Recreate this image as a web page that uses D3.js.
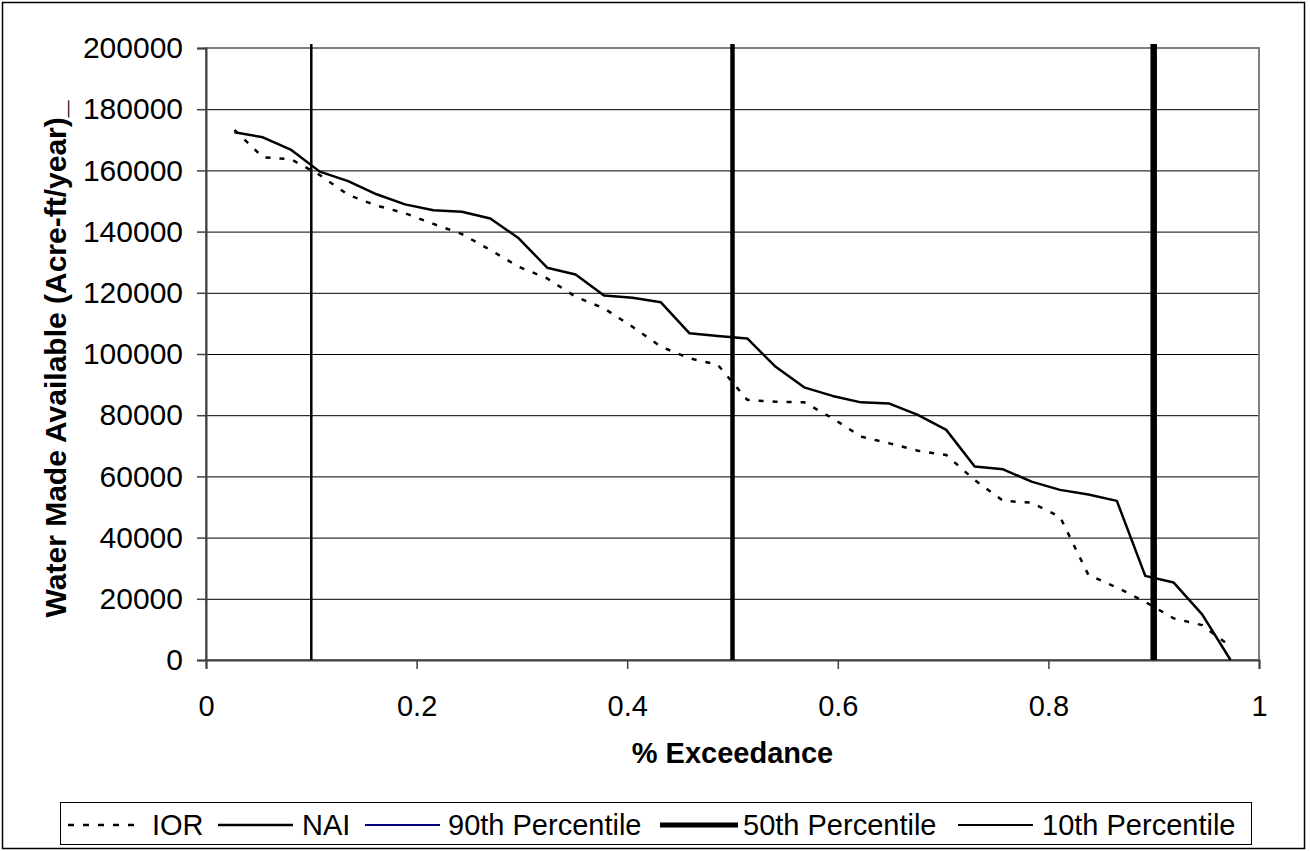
<!DOCTYPE html>
<html>
<head>
	<meta charset="UTF-8" />
	<title>exceedance</title>
	<script src="https://d3js.org/d3.v7.min.js"></script>
	<style>
		body { margin: 0; background: #fff; }
		text { font-family: "Liberation Sans", Arial, sans-serif; }
	</style>
</head>
<body>
	<svg id="chart" width="1310" height="851"></svg>

	<script type="text/javascript">
	// plotting positions (rank / 37) for the 36 ranked years
	var exceedance = [0.027, 0.054, 0.081, 0.108, 0.135, 0.162, 0.189, 0.216, 0.243, 0.270, 0.297, 0.324,
		0.351, 0.378, 0.405, 0.432, 0.459, 0.486, 0.514, 0.541, 0.568, 0.595, 0.622, 0.649,
		0.676, 0.703, 0.730, 0.757, 0.784, 0.811, 0.838, 0.865, 0.892, 0.919, 0.946, 0.973]

	var iorValues = [173200, 164300, 163600, 158500, 152000, 148500, 146000, 142500, 139200, 134000, 128500, 124700,
		118700, 114900, 108900, 102400, 98600, 96500, 85000, 84400, 84200, 79000, 73000, 70800,
		68400, 67000, 58800, 52000, 51400, 46800, 27800, 23700, 19000, 13600, 11400, 4400]

	var naiValues = [172500, 170800, 166700, 159600, 156500, 152200, 148900, 147000, 146500, 144300, 137800, 128200,
		126000, 119100, 118400, 116900, 106800, 105900, 105100, 95800, 89100, 86300, 84200, 83800,
		80100, 75200, 63200, 62300, 58300, 55600, 54100, 52000, 27500, 25300, 14900, 0]

	// vertical percentile markers
	var pctNames = ["90th Percentile", "50th Percentile", "10th Percentile"]
	var pctX = [0.1, 0.5, 0.9]
	var pctTop = 201300

	var xTicks = [0, 0.2, 0.4, 0.6, 0.8, 1]
	var yTicks = [0, 20000, 40000, 60000, 80000, 100000, 120000, 140000, 160000, 180000, 200000]

	// looks
	var pctWidth = [2.5, 4.5, 6.5]
	var fs = 29

	var svg = d3.select("#chart")
	var m = {left: 206, top: 48, right: 1259, bottom: 660}

	// outer frame
	svg.append("rect").attr("x", 2.5).attr("y", 2.5).attr("width", 1302).attr("height", 846)
		.attr("fill", "#fff").attr("stroke", "#000").attr("stroke-width", 1.5)

	var x = d3.scaleLinear().domain([0, 1]).range([m.left, m.right])
	var y = d3.scaleLinear().domain([0, 200000]).range([m.bottom, m.top])

	// gridlines
	svg.append("g").attr("transform", `translate(${m.left},0)`)
		.call(d3.axisLeft(y).tickValues(yTicks).tickSize(-(m.right - m.left)).tickFormat(""))
		.call(g => g.select(".domain").remove())
		.call(g => g.selectAll("line").attr("stroke", "#000").attr("stroke-width", 1))

	// plot area border
	svg.append("rect").attr("x", m.left).attr("y", m.top)
		.attr("width", m.right - m.left).attr("height", m.bottom - m.top)
		.attr("fill", "none").attr("stroke", "#808080").attr("stroke-width", 2)

	// axes
	var yAxis = svg.append("g").attr("transform", `translate(${m.left},0)`)
		.call(d3.axisLeft(y).tickValues(yTicks).tickSize(9).tickPadding(14).tickFormat(d3.format("d")))
	var xAxis = svg.append("g").attr("transform", `translate(0,${m.bottom})`)
		.call(d3.axisBottom(x).tickValues(xTicks).tickSize(9).tickPadding(26).tickFormat(d => d))
	;[yAxis, xAxis].forEach(a => {
		a.select(".domain").attr("stroke", "#404040").attr("stroke-width", 2)
		a.selectAll(".tick line").attr("stroke", "#404040").attr("stroke-width", 1.5)
		a.selectAll("text").attr("font-size", fs).attr("fill", "#000")
			.style("font-family", '"Liberation Sans", Arial, sans-serif')
	})
	yAxis.selectAll("text").attr("font-size", 30)

	// series
	var line = d3.line().x((d, i) => x(exceedance[i])).y(d => y(d))

	svg.append("path").datum(iorValues)
		.attr("d", line).attr("fill", "none").attr("stroke", "#000")
		.attr("stroke-width", 2.5).attr("stroke-dasharray", "5,9")

	svg.append("path").datum(naiValues)
		.attr("d", line).attr("fill", "none").attr("stroke", "#000")
		.attr("stroke-width", 2.5).attr("stroke-linejoin", "round")

	svg.selectAll("line.pct").data(pctX).enter()
		.append("line").attr("class", "pct")
		.attr("x1", d => x(d)).attr("x2", d => x(d))
		.attr("y1", y(0)).attr("y2", y(pctTop))
		.attr("stroke", "#000")
		.attr("stroke-width", (d, i) => pctWidth[i])

	// axis titles
	svg.append("text").attr("x", (m.left + m.right) / 2).attr("y", 763)
		.attr("text-anchor", "middle").attr("font-size", fs).attr("font-weight", "bold")
		.text("% Exceedance")

	svg.append("text").attr("transform", "translate(66,359) rotate(-90)")
		.attr("text-anchor", "middle").attr("font-size", 30).attr("font-weight", "bold")
		.text("Water Made Available (Acre-ft/year)_")

	// legend
	var legend = svg.append("g")
	legend.append("rect").attr("x", 60.5).attr("y", 802.5).attr("width", 1191).attr("height", 42)
		.attr("fill", "#fff").attr("stroke", "#000").attr("stroke-width", 1)

	var legItems = [
		{name: "IOR", x0: 68, x1: 137, tx: 152, color: "#000", w: 2.5, dash: "6,9"},
		{name: "NAI", x0: 218, x1: 293, tx: 302, color: "#000", w: 2.5, dash: null},
		{name: pctNames[0], x0: 365, x1: 440, tx: 448, color: "#000080", w: 2, dash: null},
		{name: pctNames[1], x0: 660, x1: 738, tx: 743, color: "#000", w: 5, dash: null},
		{name: pctNames[2], x0: 958, x1: 1033, tx: 1042, color: "#000", w: 2, dash: null}
	]
	var li = legend.selectAll("g.item").data(legItems).enter().append("g").attr("class", "item")
	li.append("line").attr("x1", d => d.x0).attr("x2", d => d.x1).attr("y1", 825).attr("y2", 825)
		.attr("stroke", d => d.color).attr("stroke-width", d => d.w)
		.attr("stroke-dasharray", d => d.dash)
	li.append("text").attr("x", d => d.tx).attr("y", 835).attr("font-size", fs)
		.text(d => d.name)
	</script>
</body>
</html>
